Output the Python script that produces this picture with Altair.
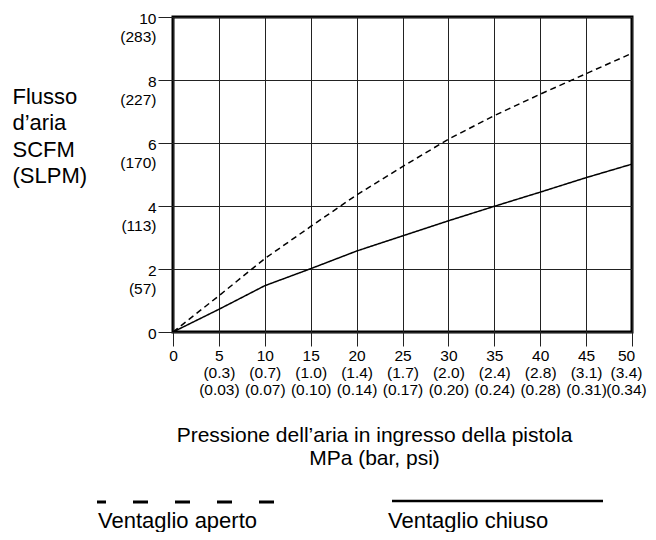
import altair as alt
import pandas as pd

# ---- data ----
pressure_psi = [0, 5, 10, 15, 20, 25, 30, 35, 40, 45, 50]
flow_open = [0, 1.15, 2.33, 3.35, 4.35, 5.25, 6.12, 6.87, 7.55, 8.2, 8.85]
flow_closed = [0, 0.72, 1.47, 2.01, 2.57, 3.05, 3.53, 3.99, 4.44, 4.9, 5.33]

y_ticks = [0, 2, 4, 6, 8, 10]
y_ticks_slpm = ["", "(57)", "(113)", "(170)", "(227)", "(283)"]
x_ticks = [0, 5, 10, 15, 20, 25, 30, 35, 40, 45, 50]
x_ticks_bar = ["", "(0.3)", "(0.7)", "(1.0)", "(1.4)", "(1.7)", "(2.0)", "(2.4)", "(2.8)", "(3.1)", "(3.4)"]
x_ticks_mpa = ["", "(0.03)", "(0.07)", "(0.10)", "(0.14)", "(0.17)", "(0.20)", "(0.24)", "(0.28)", "(0.31)", "(0.34)"]

series_open = "Ventaglio aperto"
series_closed = "Ventaglio chiuso"
y_title = ["Flusso", "d\u2019aria", "SCFM", "(SLPM)"]
x_title = ["Pressione dell\u2019aria in ingresso della pistola", "MPa (bar, psi)"]

FONT = "Liberation Sans"

df = pd.DataFrame({
    "p": pressure_psi * 2,
    "flow": flow_open + flow_closed,
    "series": [series_open] * len(pressure_psi) + [series_closed] * len(pressure_psi),
})

def js_list(items):
    return "[" + ",".join(items) + "]"

y_label_expr = js_list(
    [f'["{v}","{s}"]' for v, s in zip(y_ticks, y_ticks_slpm)]
) + "[round(datum.value/2)]"
x_label_expr = js_list(
    [f'["{v}","{b}","{m}"]' for v, b, m in zip(x_ticks, x_ticks_bar, x_ticks_mpa)]
) + "[round(datum.value/5)]"

W, H = 459, 315

x_enc = alt.X(
    "p:Q",
    scale=alt.Scale(domain=[0, 50], nice=False, zero=False),
    axis=alt.Axis(
        values=x_ticks, labelExpr=x_label_expr, domain=False,
        grid=True, gridColor="#222", gridWidth=1, gridOpacity=1,
        ticks=True, tickSize=14, tickColor="#222", tickWidth=1,
        labelFont=FONT, labelFontSize=15.5, labelColor="black",
        labelLineHeight=17, labelPadding=2, labelFlush=False,
        labelOffset={"condition": {"test": f"datum.value == {x_ticks[-1]}", "value": -6}, "value": 0},
        labelOverlap=False, labelBound=False,
        title=x_title, titleFont=FONT, titleFontSize=21, titleFontWeight="normal",
        titleColor="black", titleLineHeight=23, titleAnchor="middle",
        titleAlign="center", titleBaseline="alphabetic",
        titleX=201, titleY=109,
    ),
)
y_enc = alt.Y(
    "flow:Q",
    scale=alt.Scale(domain=[0, 10], nice=False),
    axis=alt.Axis(
        values=y_ticks, labelExpr=y_label_expr, domain=False,
        grid=True, gridColor="#222", gridWidth=1, gridOpacity=1,
        ticks=True, tickSize=15, tickColor="#222", tickWidth=1,
        labelFont=FONT, labelFontSize=15.5, labelColor="black",
        labelLineHeight=18, labelOffset=1, labelPadding=2, labelFlush=False,
        labelOverlap=False, labelBound=False, labelAlign="right", labelBaseline="middle",
        title=y_title, titleFont=FONT, titleFontSize=22, titleFontWeight="normal",
        titleColor="black", titleLineHeight=26.5, titleAngle=0,
        titleAlign="left", titleBaseline="alphabetic",
        titleX=-161, titleY=86,
    ),
)

lines = alt.Chart(df).mark_line(color="black", strokeWidth=1.5, clip=True).encode(
    x=x_enc,
    y=y_enc,
    strokeDash=alt.StrokeDash(
        "series:N",
        scale=alt.Scale(domain=[series_open, series_closed], range=[[6, 4], [1, 0]]),
        legend=None,
    ),
    detail="series:N",
)

# ---- custom legend below the chart (positions in pixels, outside plot) ----
leg_df = pd.DataFrame({"series": [series_open, series_closed]})
leg_open_line = alt.Chart(leg_df).transform_filter(
    alt.datum.series == series_open
).mark_rule(color="black", strokeWidth=3, strokeDash=[15, 27], strokeDashOffset=6).encode(
    x=alt.value(-76), x2=alt.value(128), y=alt.value(485)
)
leg_closed_line = alt.Chart(leg_df).transform_filter(
    alt.datum.series == series_closed
).mark_rule(color="black", strokeWidth=2.5).encode(
    x=alt.value(219), x2=alt.value(430), y=alt.value(484)
)
leg_open_text = alt.Chart(leg_df).transform_filter(
    alt.datum.series == series_open
).mark_text(
    font=FONT, fontSize=22, align="left", baseline="alphabetic", color="black"
).encode(text="series:N", x=alt.value(-75), y=alt.value(511))
leg_closed_text = alt.Chart(leg_df).transform_filter(
    alt.datum.series == series_closed
).mark_text(
    font=FONT, fontSize=22, align="left", baseline="alphabetic", color="black"
).encode(text="series:N", x=alt.value(215), y=alt.value(511))

chart = alt.layer(
    lines, leg_open_line, leg_closed_line, leg_open_text, leg_closed_text
).properties(
    width=W, height=H,
    autosize=alt.AutoSizeParams(type="none"),
    padding={"left": 165, "top": 9, "right": 16, "bottom": 200},
).configure(
    background="white",
    view=alt.ViewConfig(stroke="black", strokeWidth=3),
)

chart.save("out.html", embed_options={"renderer": "svg", "actions": False})
